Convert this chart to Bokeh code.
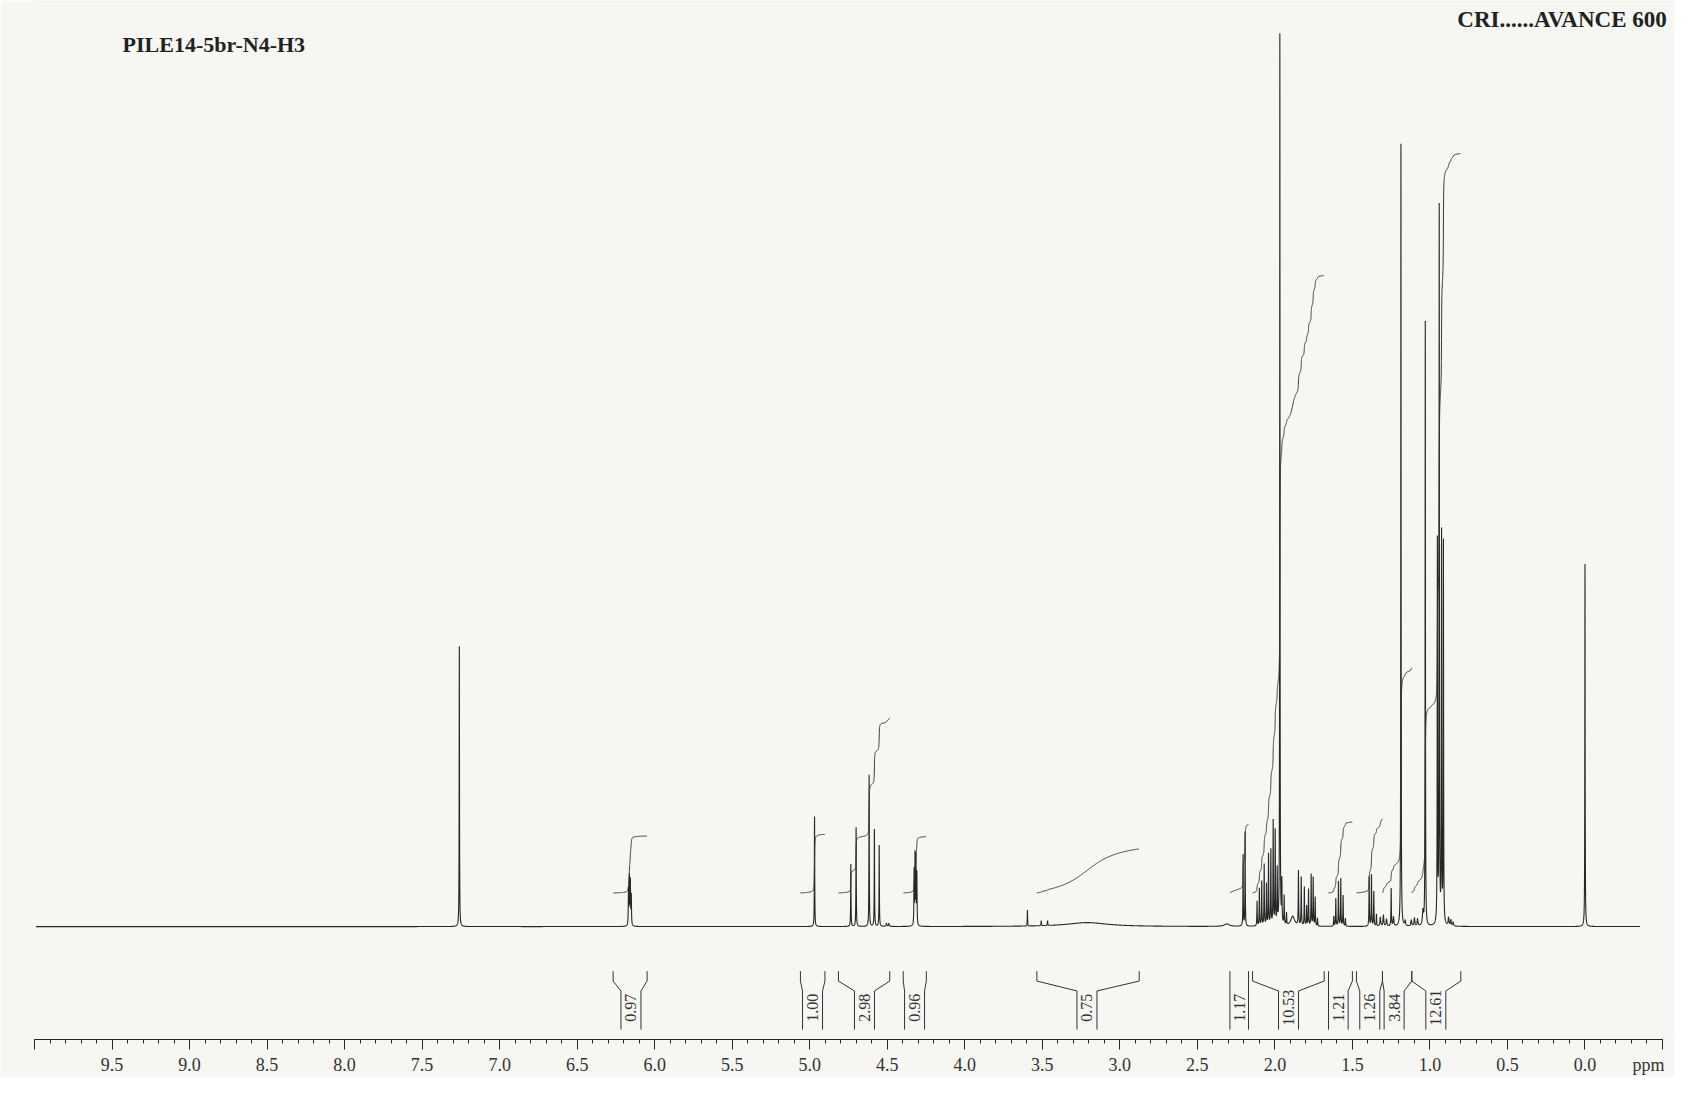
import numpy as np
from bokeh.plotting import figure
from bokeh.models import (Range1d, FixedTicker, Label, ColumnDataSource, LinearAxis,
                          CustomLabelingPolicy)
from bokeh.core.properties import value
from bokeh.embed import file_html
from bokeh.resources import INLINE

# ---------------- data ----------------
# peak list: chemical shift (ppm), height (px above baseline), half-width (ppm)
peak_ppm = [7.260,
            6.169, 6.163, 6.157, 6.151,
            4.969,
            4.735, 4.701, 4.617, 4.583, 4.552, 4.505, 4.490,
            4.327, 4.321, 4.315, 4.309,
            3.596, 3.507, 3.466, 3.210,
            2.310, 2.205, 2.192,
            2.115, 2.100, 2.085, 2.069, 2.054, 2.041, 2.026, 2.011, 1.998, 1.985,
            1.968, 1.955, 1.940, 1.925, 1.885,
            1.848, 1.830, 1.810, 1.795, 1.783, 1.766, 1.753, 1.740, 1.725,
            1.620, 1.607, 1.590, 1.575, 1.560, 1.545,
            1.392, 1.377, 1.362, 1.345, 1.320, 1.300, 1.280, 1.250, 1.235,
            1.187, 1.160, 1.120, 1.100, 1.080, 1.045, 1.030,
            0.952, 0.940, 0.925, 0.913, 0.880, 0.865, 0.850,
            0.000]
peak_height = [283,
               36, 48, 44, 30,
               111,
               63, 100, 153, 98, 82, 3, 3,
               55, 70, 68, 52,
               16, 5, 5, 4,
               2.5, 72, 95,
               25, 38, 45, 62, 42, 72, 76, 105, 95, 55,
               900, 42, 29, 12, 10,
               55, 49, 39, 20, 37, 52, 49, 29, 8,
               10, 28, 45, 48, 31, 8,
               50, 52, 35, 12, 9, 11, 7, 38, 9,
               790, 5, 6, 8, 7, 14, 610,
               385, 722, 392, 385, 8, 6, 4,
               366]
peak_width = [0.0012,
              0.0016, 0.0016, 0.0016, 0.0016,
              0.0013,
              0.0013, 0.0013, 0.0013, 0.0013, 0.0013, 0.003, 0.003,
              0.0014, 0.0014, 0.0014, 0.0014,
              0.0012, 0.0015, 0.0015, 0.16,
              0.02, 0.0013, 0.0013,
              0.0015, 0.0015, 0.0015, 0.0015, 0.0015, 0.0015, 0.0015, 0.0015, 0.0015, 0.0015,
              0.0012, 0.0015, 0.0015, 0.0015, 0.015,
              0.0015, 0.0015, 0.0015, 0.0015, 0.0015, 0.0015, 0.0015, 0.0015, 0.0015,
              0.0015, 0.0015, 0.0015, 0.0015, 0.0015, 0.0015,
              0.0015, 0.0015, 0.0015, 0.0015, 0.003, 0.003, 0.003, 0.0015, 0.003,
              0.0012, 0.003, 0.003, 0.003, 0.003, 0.004, 0.0012,
              0.0013, 0.0013, 0.0013, 0.0013, 0.003, 0.003, 0.003,
              0.0012]

spectrum_left_ppm = 9.99
spectrum_right_ppm = -0.355

# integral regions
integral_start = [6.268, 5.060, 4.815, 4.397, 3.535, 2.290, 2.144, 1.654, 1.474, 1.306, 1.117]
integral_end = [6.049, 4.902, 4.484, 4.248, 2.875, 2.170, 1.682, 1.500, 1.306, 1.117, 0.801]
integral_value = [0.97, 1.00, 2.98, 0.96, 0.75, 1.17, 10.53, 1.21, 1.26, 3.84, 12.61]
integral_labels = ["0.97", "1.00", "2.98", "0.96", "0.75", "1.17", "10.53", "1.21", "1.26", "3.84", "12.61"]
integral_label_ppm = [6.153, 4.982, 4.647, 4.324, 3.212, 2.228, 1.912, 1.592, 1.388, 1.231, 0.962]

# axis: tick marks and labels
tick_values = [10.0, 9.5, 9.0, 8.5, 8.0, 7.5, 7.0, 6.5, 6.0, 5.5, 5.0, 4.5, 4.0,
               3.5, 3.0, 2.5, 2.0, 1.5, 1.0, 0.5, 0.0, -0.5]
minor_tick_values = [round(10.0 - 0.1 * i, 1) for i in range(106)]
label_values = [9.5, 9.0, 8.5, 8.0, 7.5, 7.0, 6.5, 6.0, 5.5, 5.0, 4.5, 4.0,
                3.5, 3.0, 2.5, 2.0, 1.5, 1.0, 0.5, 0.0, -0.41]
label_texts = ["9.5", "9.0", "8.5", "8.0", "7.5", "7.0", "6.5", "6.0", "5.5", "5.0",
               "4.5", "4.0", "3.5", "3.0", "2.5", "2.0", "1.5", "1.0", "0.5", "0.0", "ppm"]

title_left = "PILE14-5br-N4-H3"
title_right = "CRI......AVANCE  600"

# ---------------- layout constants ----------------
W, H = 1674, 1077
BORDER_LEFT = 34
PX_PER_PPM = 1628 / 10.5
X_START = 10.0
X_END = X_START - (W - BORDER_LEFT) / PX_PER_PPM
Y_START, Y_END = -114, 935
INK = "#262626"
BG = "#f6f6f2"
SERIF = "Liberation Serif"

INTEG_BASE = 34.0      # px above baseline where integral curves start
INTEG_SCALE = 59.2     # px per integral unit

# ---------------- spectrum ----------------
pieces = [np.linspace(spectrum_right_ppm, spectrum_left_ppm, 6000), np.array(peak_ppm)]
for pk, w in zip(peak_ppm, peak_width):
    if w < 0.01:
        pieces.append(np.arange(pk - 0.03, pk + 0.03, 0.0003))
xs = np.unique(np.concatenate(pieces))
xs = xs[(xs >= spectrum_right_ppm) & (xs <= spectrum_left_ppm)]
ys = np.zeros_like(xs)
for pk, h, w in zip(peak_ppm, peak_height, peak_width):
    ys += h / (1.0 + ((xs - pk) / w) ** 2)

p = figure(width=W, height=H, output_backend="svg", toolbar_location=None,
           x_range=Range1d(X_START, X_END), y_range=Range1d(Y_START, Y_END),
           y_axis_location=None, min_border_left=BORDER_LEFT, min_border_right=0,
           min_border_top=0, background_fill_color=BG, border_fill_color=BG,
           outline_line_color=None)
p.grid.visible = False

p.line(xs, ys, line_color=INK, line_width=1.1)

# ---------------- integral curves ----------------
ixs, iys = [], []
for s, e, v in zip(integral_start, integral_end, integral_value):
    m = (xs <= s) & (xs >= e)
    sx = xs[m][::-1]
    sy = ys[m][::-1]
    dx = np.abs(np.diff(sx, prepend=sx[0]))
    area = np.cumsum(sy * dx)
    ixs.append(list(sx))
    iys.append(list(INTEG_BASE + v * INTEG_SCALE * area / area[-1]))
p.multi_line(ixs, iys, line_color="#333333", line_width=1.0)

# ---------------- integral brackets & labels ----------------
TOP, BEND1, BEND2, BOTTOM = -45, -55, -65, -104
slot = 10.0 / PX_PER_PPM
bxs, bys = [], []
for s, e, c in zip(integral_start, integral_end, integral_label_ppm):
    sl = min(slot, s - c)
    sr = min(slot, c - e)
    bxs.append([s, s, c + sl, c + sl]); bys.append([TOP, BEND1, BEND2, BOTTOM])
    bxs.append([e, e, c - sr, c - sr]); bys.append([TOP, BEND1, BEND2, BOTTOM])
p.multi_line(bxs, bys, line_color="#333333", line_width=1.0)

lab_src = ColumnDataSource(dict(x=integral_label_ppm, y=[-82] * len(integral_label_ppm),
                                t=integral_labels))
p.text(x="x", y="y", text="t", source=lab_src, angle=np.pi / 2,
       text_align="center", text_baseline="middle",
       text_font=value(SERIF), text_font_size="16px", text_color="#333333")

# ---------------- axes: A = line + tick marks (no labels), B = tick labels ----------------
ax = p.xaxis[0]
ax.bounds = (-0.5, 10.0)
ax.ticker = FixedTicker(ticks=tick_values, minor_ticks=minor_tick_values)
ax.major_label_policy = CustomLabelingPolicy(code="return []")
ax.major_tick_out = 10
ax.major_tick_in = 0
ax.minor_tick_out = 4
ax.minor_tick_in = 0
ax.major_label_standoff = 0
ax.major_label_text_font_size = "0px"
ax.axis_line_color = INK
ax.major_tick_line_color = INK
ax.minor_tick_line_color = INK

bx = LinearAxis(ticker=FixedTicker(ticks=label_values, minor_ticks=[]),
                bounds=(-0.5, 10.0),
                major_label_overrides={v: t for v, t in zip(label_values, label_texts)},
                axis_line_color=None, major_tick_line_color=None,
                minor_tick_line_color=None, major_tick_out=0, major_tick_in=0,
                minor_tick_out=0, minor_tick_in=0, major_label_standoff=5,
                major_label_text_font=SERIF, major_label_text_font_size="18px",
                major_label_text_color="#333333")
p.add_layout(bx, "below")

# ---------------- titles ----------------
p.add_layout(Label(x=9.432, y=891, text=title_left, text_align="left",
                   text_baseline="middle", text_font=SERIF, text_font_style="bold",
                   text_font_size="22px", text_color="#222222"))
p.add_layout(Label(x=X_START - (1672 - BORDER_LEFT) / PX_PER_PPM, y=916, text=title_right,
                   text_align="right", text_baseline="middle", text_font=SERIF,
                   text_font_style="bold", text_font_size="23px", text_color="#222222"))

open("out.html", "w").write(file_html(p, INLINE))
